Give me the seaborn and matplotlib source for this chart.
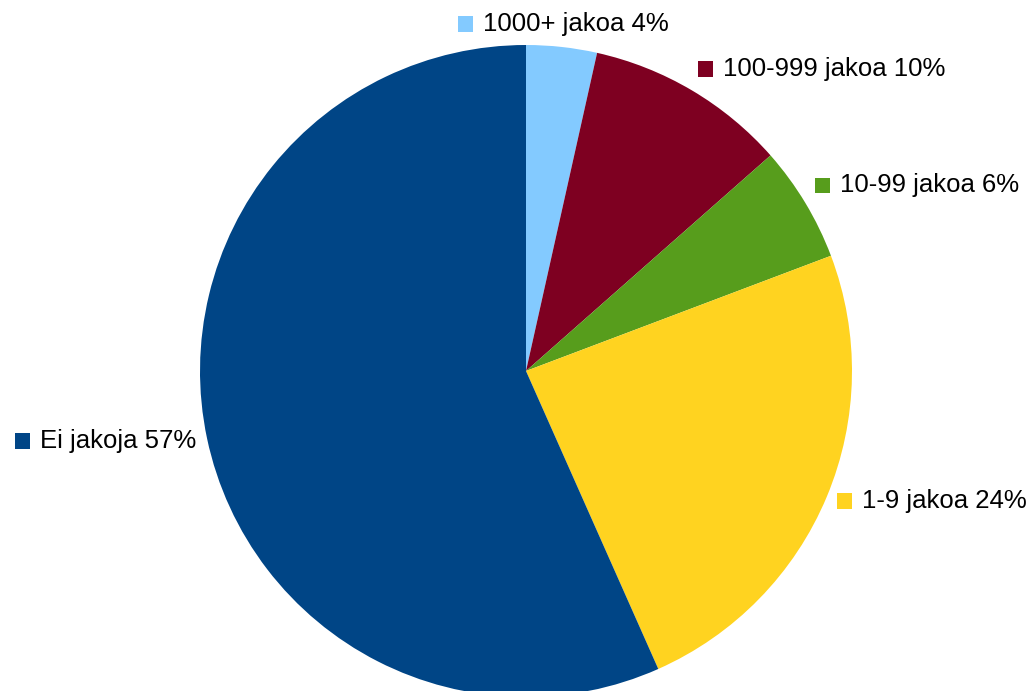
import numpy as np
import matplotlib
matplotlib.use("Agg")
import matplotlib.pyplot as plt
import seaborn as sns
from matplotlib.offsetbox import AnnotationBbox, DrawingArea, HPacker, TextArea
from matplotlib.patches import Rectangle

sns.set_style("white")
plt.rcParams["font.family"] = ["Liberation Sans", "DejaVu Sans"]

# data (clockwise from 12 o'clock)
categories = ["1000+ jakoa", "100-999 jakoa", "10-99 jakoa", "1-9 jakoa", "Ei jakoja"]
shares = [3.5, 10.0, 5.75, 24.1, 56.65]
pct_labels = ["4%", "10%", "6%", "24%", "57%"]
colors = ["#83caff", "#7e0021", "#579d1c", "#ffd320", "#004586"]

fig = plt.figure(figsize=(10.34, 6.91), dpi=100)
# pie centre ~ (526, 371) px, radius ~326 px
R = 326
ax = fig.add_axes([(526 - R) / 1034, 1 - (371 + R) / 691, 2 * R / 1034, 2 * R / 691])
ax.set_axis_off()

wedges, _ = ax.pie(shares, colors=colors, startangle=90, counterclock=False,
                   wedgeprops={"linewidth": 0}, radius=1)
ax.set_xlim(-1, 1)
ax.set_ylim(-1, 1)

fs = 18.5
r_lab = (R + 11) / R  # label box sits ~11 px outside the rim
for w, cat, pct, col in zip(wedges, categories, pct_labels, colors):
    mid = (w.theta1 + w.theta2) / 2
    theta = np.deg2rad(mid)
    x, y = r_lab * np.cos(theta), r_lab * np.sin(theta)

    box = DrawingArea(11, 11, 0, 0)
    box.add_artist(Rectangle((0, 0), 11, 11, facecolor=col, edgecolor="none"))
    txt = TextArea(f"{cat} {pct}", textprops={"fontsize": fs, "color": "black"})
    pack = HPacker(children=[box, txt], align="center", pad=0, sep=7)

    # elevation from horizontal decides which corner/edge touches the anchor
    elev = np.degrees(np.arcsin(np.sin(theta)))
    if abs(elev) > 75:
        ha = 0.5
    else:
        ha = 0.0 if np.cos(theta) > 0 else 1.0
    if abs(elev) < 27:
        va = 0.5
    else:
        va = 0.0 if elev > 0 else 1.0
    ab = AnnotationBbox(pack, (x, y), xycoords="data", box_alignment=(ha, va),
                        frameon=False, pad=0, annotation_clip=False)
    ax.add_artist(ab)

fig.savefig("out.png", dpi=100)
